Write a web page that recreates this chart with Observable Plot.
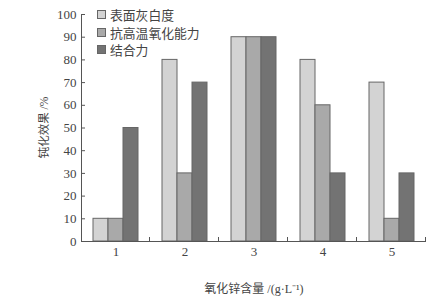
<!DOCTYPE html>
<html><head><meta charset="utf-8">
<script src="https://cdn.jsdelivr.net/npm/d3@7"></script>
<script src="https://cdn.jsdelivr.net/npm/@observablehq/plot@0.6"></script>
<style>
body{margin:0;background:#fff;}
#wrap{position:relative;width:447px;height:301px;overflow:hidden;}
.legend{position:absolute;left:97px;top:6px;font-family:"Noto Sans CJK SC";font-size:12.8px;color:#444;line-height:17.5px;}
.legend .row{display:flex;align-items:center;height:17.5px;}
.legend .sw{width:9px;height:9px;border:1px solid #666;margin-right:4px;box-sizing:border-box;}
</style></head><body><div id="wrap"></div>
<script>
const categories = ["1","2","3","4","5"];
const seriesNames = ["表面灰白度","抗高温氧化能力","结合力"];
const whiteness = [10,80,90,80,70];
const oxidation = [10,30,90,60,10];
const adhesion = [50,70,90,30,30];
const yTicks = [0,10,20,30,40,50,60,70,80,90,100];
const colors = ["#d3d3d3","#a9a9a9","#737373"];
const yLabel = "钝化效果 /%";
const xLabel = "氧化锌含量 /(g·L⁻¹)";

const seriesValues = [whiteness, oxidation, adhesion];
const data = categories.flatMap((c,i)=>seriesValues.map((s,j)=>({cat:c, series:seriesNames[j], value:s[i]})));

const plot = Plot.plot({
  width:447, height:301, marginLeft:81, marginRight:21, marginTop:14, marginBottom:60,
  style:{fontFamily:"Liberation Serif", fontSize:"13px", color:"#444", background:"#fff"},
  fx:{domain:categories, padding:0, label:null},
  x:{domain:seriesNames, paddingInner:0, paddingOuter:0.75, axis:null},
  y:{domain:[0,100]},
  color:{domain:seriesNames, range:colors},
  marks:[
    Plot.barY(data,{fx:"cat", x:"series", y:"value", fill:"series", stroke:"#666", strokeWidth:1}),
    Plot.axisY({ticks:yTicks, tickSize:0, tickPadding:5, label:null}),
    Plot.axisFx({anchor:"bottom", tickSize:0, tickPadding:5, label:null}),
    Plot.ruleY([0], {stroke:"#555"})
  ]
});

const svg = d3.select(plot);
const fx = plot.scale("fx"), y = plot.scale("y");
const x0 = fx.range[0];
const g = svg.append("g").attr("stroke","#555").attr("stroke-width",1).attr("fill","none");
g.append("line").attr("x1",x0+0.5).attr("x2",x0+0.5).attr("y1",y.apply(0)).attr("y2",y.apply(100));
yTicks.forEach(t=>{
  g.append("line").attr("x1",x0).attr("x2",x0+4).attr("y1",y.apply(t)+0.5).attr("y2",y.apply(t)+0.5);
});
categories.forEach(c=>{
  const xb = fx.apply(c)+fx.bandwidth;
  g.append("line").attr("x1",xb-0.5).attr("x2",xb-0.5).attr("y1",y.apply(0)).attr("y2",y.apply(0)-4);
});
svg.append("text").text(yLabel).attr("transform",`translate(48,${(y.apply(0)+y.apply(100))/2}) rotate(-90)`)
  .attr("text-anchor","middle").attr("font-family","Liberation Serif, Noto Sans CJK SC").attr("font-size",11.5).attr("fill","#444");
svg.append("text").text(xLabel).attr("x",254).attr("y",293)
  .attr("text-anchor","middle").attr("font-family","Liberation Serif, Noto Sans CJK SC").attr("font-size",12).attr("fill","#444");

const wrap = document.getElementById("wrap");
wrap.appendChild(plot);
const leg = document.createElement("div");
leg.className = "legend";
seriesNames.forEach((n,i)=>{
  const r = document.createElement("div"); r.className="row";
  const s = document.createElement("div"); s.className="sw"; s.style.background=colors[i];
  const t = document.createElement("span"); t.textContent = n;
  r.appendChild(s); r.appendChild(t); leg.appendChild(r);
});
wrap.appendChild(leg);
</script></body></html>
